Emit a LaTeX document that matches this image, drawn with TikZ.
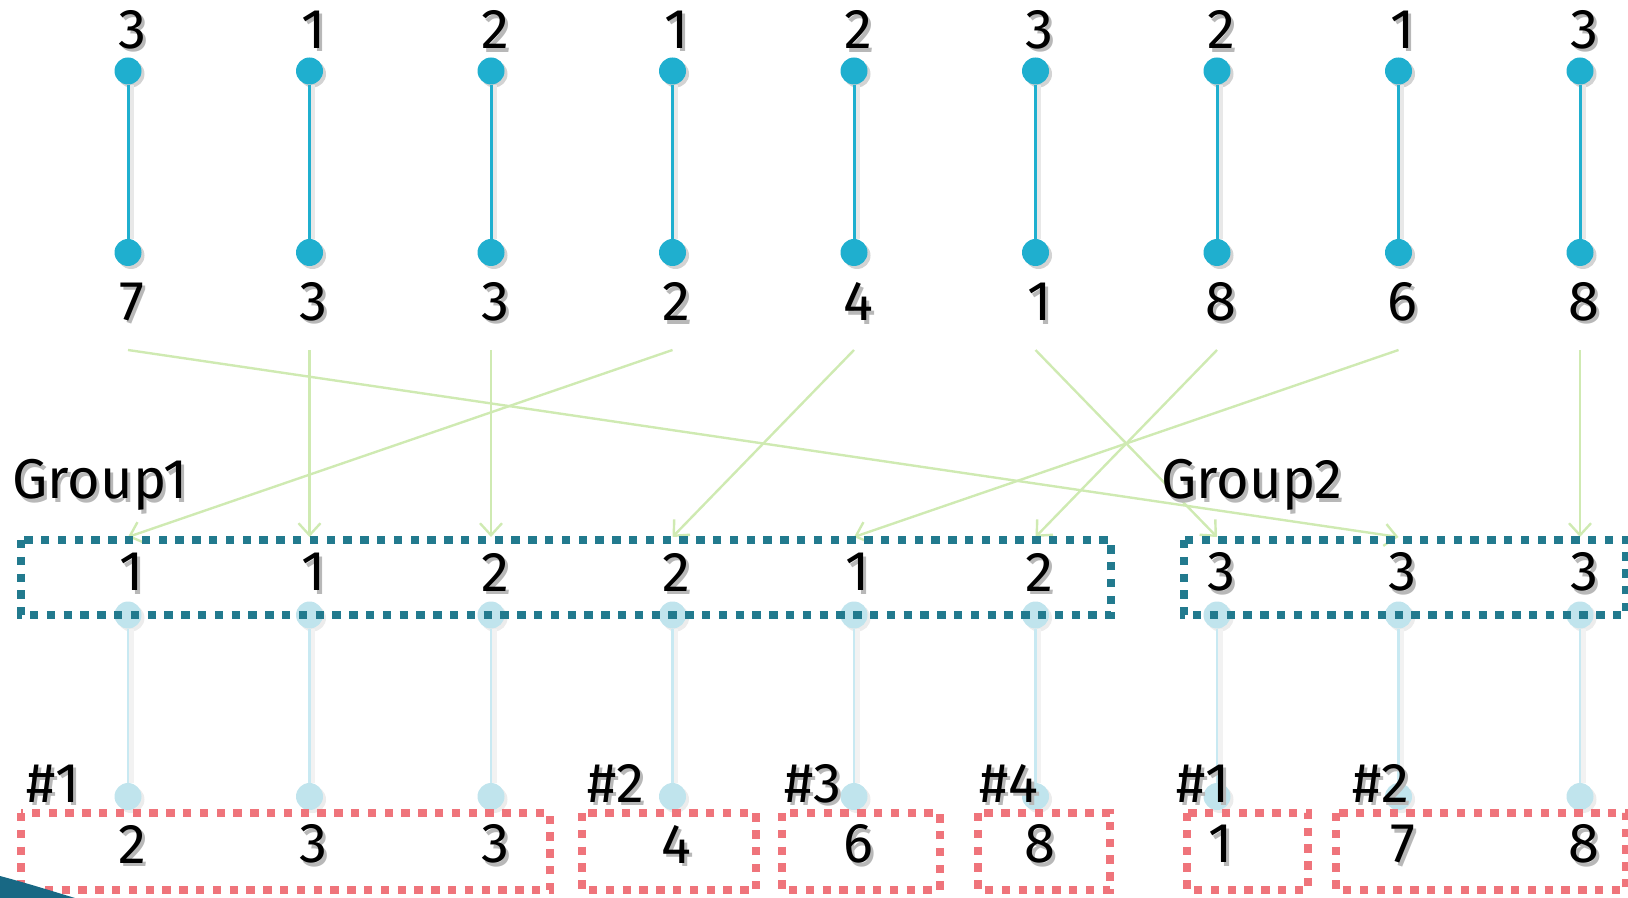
\documentclass[tikz,border=0pt]{standalone}
\usepackage{fontspec}
\setmainfont{Fira Sans}
\usepackage{tikz}
\usetikzlibrary{shapes,arrows.meta,shadows}
\definecolor{pairblue}{RGB}{31,175,207}
\definecolor{paleblue}{RGB}{192,228,237}
\definecolor{paleline}{RGB}{200,233,242}
\definecolor{flowgreen}{RGB}{207,234,178}
\definecolor{groupteal}{RGB}{34,122,142}
\definecolor{slotred}{RGB}{239,116,123}
\definecolor{cornerteal}{RGB}{24,104,132}
% digits and labels get a soft grey copy behind them
\newcommand{\shtxt}[1]{\makebox[0pt][l]{\hspace{1.5pt}\raisebox{-1.8pt}{\textcolor{black!28}{#1}}}#1}
\tikzstyle{dot} = [circle, fill=pairblue, minimum size=13.5pt, inner sep=0pt,
    drop shadow={shadow xshift=1.5pt, shadow yshift=-1.5pt, opacity=0.35}]
\tikzstyle{softdot} = [circle, fill=paleblue, minimum size=13.5pt, inner sep=0pt,
    drop shadow={shadow xshift=1.5pt, shadow yshift=-1.5pt, opacity=0.15}]
\tikzstyle{num} = [font=\fontsize{28}{34}\selectfont, inner sep=0pt]
\tikzstyle{pair} = [draw=pairblue, line width=1.5pt,
    preaction={draw=black!9, line width=2.5pt, transform canvas={xshift=1.5pt}}]
\tikzstyle{softpair} = [draw=paleline, line width=1.3pt,
    preaction={draw=black!5, line width=2.5pt, transform canvas={xshift=1.5pt}}]
\tikzstyle{flow} = [draw=flowgreen, line width=1.2pt, -{Straight Barb[length=6pt,width=11pt]}]
\tikzstyle{groupbox} = [draw=groupteal, line width=4pt, dash pattern=on 4.2pt off 4.2pt]
\tikzstyle{slotbox} = [draw=slotred, line width=4pt, dash pattern=on 4.2pt off 4.2pt]

\begin{document}
\begin{tikzpicture}[x=0.5pt, y=-0.5pt, node distance=90.75pt]
    \useasboundingbox (0,0) rectangle (1628,898);
    % Place nodes: original pairs
    \node [dot] (t1) at (128,71) {};
    \node [dot, right of=t1] (t2) {};
    \node [dot, right of=t2] (t3) {};
    \node [dot, right of=t3] (t4) {};
    \node [dot, right of=t4] (t5) {};
    \node [dot, right of=t5] (t6) {};
    \node [dot, right of=t6] (t7) {};
    \node [dot, right of=t7] (t8) {};
    \node [dot, right of=t8] (t9) {};
    \node [dot, below of=t1] (b1) {};
    \node [dot, below of=t2] (b2) {};
    \node [dot, below of=t3] (b3) {};
    \node [dot, below of=t4] (b4) {};
    \node [dot, below of=t5] (b5) {};
    \node [dot, below of=t6] (b6) {};
    \node [dot, below of=t7] (b7) {};
    \node [dot, below of=t8] (b8) {};
    \node [dot, below of=t9] (b9) {};
    \node [num, above of=t1, node distance=19.8pt, xshift=2pt] (a1) {\shtxt{3}};
    \node [num, above of=t2, node distance=19.8pt, xshift=2pt] (a2) {\shtxt{1}};
    \node [num, above of=t3, node distance=19.8pt, xshift=2pt] (a3) {\shtxt{2}};
    \node [num, above of=t4, node distance=19.8pt, xshift=2pt] (a4) {\shtxt{1}};
    \node [num, above of=t5, node distance=19.8pt, xshift=2pt] (a5) {\shtxt{2}};
    \node [num, above of=t6, node distance=19.8pt, xshift=2pt] (a6) {\shtxt{3}};
    \node [num, above of=t7, node distance=19.8pt, xshift=2pt] (a7) {\shtxt{2}};
    \node [num, above of=t8, node distance=19.8pt, xshift=2pt] (a8) {\shtxt{1}};
    \node [num, above of=t9, node distance=19.8pt, xshift=2pt] (a9) {\shtxt{3}};
    \node [num, below of=b1, node distance=25.5pt, xshift=2pt] (n1) {\shtxt{7}};
    \node [num, below of=b2, node distance=25.5pt, xshift=2pt] (n2) {\shtxt{3}};
    \node [num, below of=b3, node distance=25.5pt, xshift=2pt] (n3) {\shtxt{3}};
    \node [num, below of=b4, node distance=25.5pt, xshift=2pt] (n4) {\shtxt{2}};
    \node [num, below of=b5, node distance=25.5pt, xshift=2pt] (n5) {\shtxt{4}};
    \node [num, below of=b6, node distance=25.5pt, xshift=2pt] (n6) {\shtxt{1}};
    \node [num, below of=b7, node distance=25.5pt, xshift=2pt] (n7) {\shtxt{8}};
    \node [num, below of=b8, node distance=25.5pt, xshift=2pt] (n8) {\shtxt{6}};
    \node [num, below of=b9, node distance=25.5pt, xshift=2pt] (n9) {\shtxt{8}};
    % Place nodes: sorted pairs
    \node [softdot] (u1) at (128,615) {};
    \node [softdot, right of=u1] (u2) {};
    \node [softdot, right of=u2] (u3) {};
    \node [softdot, right of=u3] (u4) {};
    \node [softdot, right of=u4] (u5) {};
    \node [softdot, right of=u5] (u6) {};
    \node [softdot, right of=u6] (u7) {};
    \node [softdot, right of=u7] (u8) {};
    \node [softdot, right of=u8] (u9) {};
    \node [softdot, below of=u1] (d1) {};
    \node [softdot, below of=u2] (d2) {};
    \node [softdot, below of=u3] (d3) {};
    \node [softdot, below of=u4] (d4) {};
    \node [softdot, below of=u5] (d5) {};
    \node [softdot, below of=u6] (d6) {};
    \node [softdot, below of=u7] (d7) {};
    \node [softdot, below of=u8] (d8) {};
    \node [softdot, below of=u9] (d9) {};
    \coordinate (flowtop) at (0,350);
    \coordinate (flowbot) at (0,537);
    % Draw edges
    \path [pair] (t1) -- (b1);
    \path [pair] (t2) -- (b2);
    \path [pair] (t3) -- (b3);
    \path [pair] (t4) -- (b4);
    \path [pair] (t5) -- (b5);
    \path [pair] (t6) -- (b6);
    \path [pair] (t7) -- (b7);
    \path [pair] (t8) -- (b8);
    \path [pair] (t9) -- (b9);
    \path [softpair] (u1) -- (d1);
    \path [softpair] (u2) -- (d2);
    \path [softpair] (u3) -- (d3);
    \path [softpair] (u4) -- (d4);
    \path [softpair] (u5) -- (d5);
    \path [softpair] (u6) -- (d6);
    \path [softpair] (u7) -- (d7);
    \path [softpair] (u8) -- (d8);
    \path [softpair] (u9) -- (d9);
    \path [flow] (b1 |- flowtop) -- (u8 |- flowbot);
    \path [flow] (b2 |- flowtop) -- (u2 |- flowbot);
    \path [flow] (b3 |- flowtop) -- (u3 |- flowbot);
    \path [flow] (b4 |- flowtop) -- (u1 |- flowbot);
    \path [flow] (b5 |- flowtop) -- (u4 |- flowbot);
    \path [flow] (b6 |- flowtop) -- (u7 |- flowbot);
    \path [flow] (b7 |- flowtop) -- (u6 |- flowbot);
    \path [flow] (b8 |- flowtop) -- (u5 |- flowbot);
    \path [flow] (b9 |- flowtop) -- (u9 |- flowbot);
    % group and slot frames
    \draw [groupbox] (21,540) rectangle (1111,615);
    \draw [groupbox] (1184,540) rectangle (1626,615);
    \draw [slotbox] (21,813) rectangle (550,890);
    \draw [slotbox] (582,813) rectangle (756,890);
    \draw [slotbox] (782,813) rectangle (940,890);
    \draw [slotbox] (978,813) rectangle (1110,890);
    \draw [slotbox] (1187,813) rectangle (1308,890);
    \draw [slotbox] (1336,813) rectangle (1626,890);
    % labels on the sorted pairs
    \node [num, anchor=base west] (grp1) at (12,499) {\shtxt{Group1}};
    \node [num, anchor=base west] (grp2) at (1161,499) {\shtxt{Group2}};
    \node [num] (g1) at (132,574) {\shtxt{1}};
    \node [num, right of=g1] (g2) {\shtxt{1}};
    \node [num, right of=g2] (g3) {\shtxt{2}};
    \node [num, right of=g3] (g4) {\shtxt{2}};
    \node [num, right of=g4] (g5) {\shtxt{1}};
    \node [num, right of=g5] (g6) {\shtxt{2}};
    \node [num, right of=g6] (g7) {\shtxt{3}};
    \node [num, right of=g7] (g8) {\shtxt{3}};
    \node [num, right of=g8] (g9) {\shtxt{3}};
    \node [num] (r1) at (132,846) {\shtxt{2}};
    \node [num, right of=r1] (r2) {\shtxt{3}};
    \node [num, right of=r2] (r3) {\shtxt{3}};
    \node [num, right of=r3] (r4) {\shtxt{4}};
    \node [num, right of=r4] (r5) {\shtxt{6}};
    \node [num, right of=r5] (r6) {\shtxt{8}};
    \node [num, right of=r6] (r7) {\shtxt{1}};
    \node [num, right of=r7] (r8) {\shtxt{7}};
    \node [num, right of=r8] (r9) {\shtxt{8}};
    \node [num, anchor=base west] (k1) at (26,802) {\shtxt{\#1}};
    \node [num, anchor=base west] (k2) at (587,802) {\shtxt{\#2}};
    \node [num, anchor=base west] (k3) at (784,802) {\shtxt{\#3}};
    \node [num, anchor=base west] (k4) at (979,802) {\shtxt{\#4}};
    \node [num, anchor=base west] (k5) at (1176,802) {\shtxt{\#1}};
    \node [num, anchor=base west] (k6) at (1352,802) {\shtxt{\#2}};
    % corner swoosh
    \fill [cornerteal] (0,876) .. controls (30,884) and (55,892) .. (75,898) -- (0,898) -- cycle;
\end{tikzpicture}
\end{document}
